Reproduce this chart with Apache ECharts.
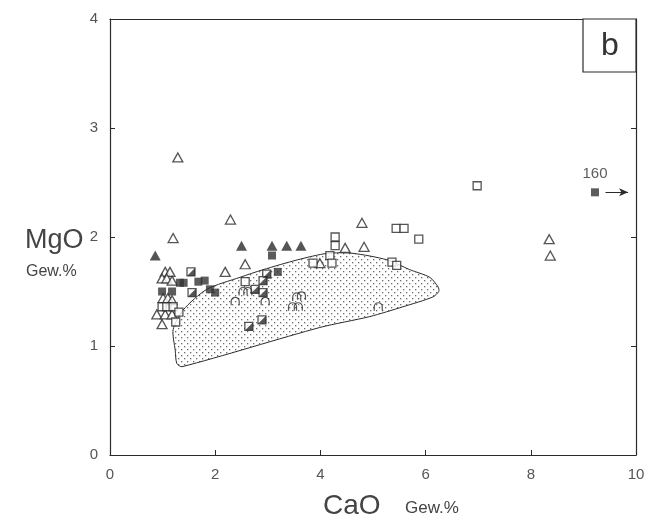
<!DOCTYPE html>
<html>
<head>
<meta charset="utf-8">
<script src="https://cdn.jsdelivr.net/npm/echarts@6/dist/echarts.min.js"></script>
<style>
  html, body { margin: 0; padding: 0; background: #fff; }
  #chart { width: 649px; height: 524px; }
</style>
</head>
<body>
<div id="chart"></div>
<script>
// Werte (CaO, MgO in Gew.%)
const openTriangles = [
  [1.29, 2.73], [2.29, 2.16], [1.20, 1.99], [2.57, 1.75], [2.19, 1.68],
  [4.79, 2.13], [4.47, 1.90], [4.83, 1.91], [3.99, 1.76], [8.35, 1.98], [8.37, 1.83],
  [1.05, 1.68], [1.14, 1.68], [0.99, 1.62], [1.08, 1.62], [1.18, 1.60],
  [1.01, 1.44], [1.10, 1.44], [1.18, 1.42], [0.89, 1.29], [1.05, 1.29],
  [1.18, 1.29], [0.99, 1.20]
];
const filledTriangles = [
  [0.86, 1.83], [2.50, 1.92], [3.08, 1.92], [3.36, 1.92], [3.63, 1.92]
];
const filledSquares = [
  [3.08, 1.83], [3.19, 1.68], [0.99, 1.50], [1.18, 1.50],
  [1.33, 1.58], [1.40, 1.58], [1.68, 1.59], [1.80, 1.60], [1.90, 1.52], [2.00, 1.49]
];
const farPoint = [9.22, 2.41];   // Wert 160, ausserhalb der Skala
const farLabel = '160';
const openSquares = [
  [6.98, 2.47], [5.44, 2.08], [5.59, 2.08], [5.87, 1.98], [4.28, 2.00], [4.28, 1.92],
  [4.18, 1.83], [4.22, 1.76], [5.36, 1.77], [5.45, 1.74], [3.86, 1.76], [2.57, 1.59],
  [0.99, 1.36], [1.08, 1.36], [1.20, 1.36], [1.31, 1.31], [1.25, 1.22]
];
const halfSquares = [
  [2.98, 1.66], [2.91, 1.60], [2.76, 1.52], [2.91, 1.49], [2.89, 1.24], [2.64, 1.18],
  [1.54, 1.68], [1.56, 1.49]
];
const arches = [
  [2.53, 1.50], [2.62, 1.50], [2.38, 1.41], [2.95, 1.41],
  [3.55, 1.45], [3.64, 1.46], [3.47, 1.36], [3.58, 1.36], [5.10, 1.36]
];
// Umriss des punktierten Feldes
const fieldOutline = [
  [1.20, 1.15], [1.24, 0.96], [1.27, 0.84], [1.37, 0.81], [3.99, 1.17], [4.94, 1.27],
  [5.57, 1.36], [6.14, 1.45], [6.25, 1.50], [6.24, 1.54], [6.08, 1.63], [5.70, 1.70],
  [5.27, 1.79], [4.62, 1.85], [4.13, 1.85], [3.56, 1.79], [2.91, 1.70], [2.47, 1.63],
  [1.84, 1.52], [1.39, 1.33]
];
const xTicks = [0, 2, 4, 6, 8, 10];
const yTicks = [0, 1, 2, 3, 4];

const ink = '#2b2b2b';
const font = 'Liberation Sans';

// Punktraster fuer das Feld
const dots = document.createElement('canvas');
dots.width = 6; dots.height = 6;
const dctx = dots.getContext('2d');
dctx.fillStyle = '#6a6a6a';
dctx.fillRect(1, 1, 1.3, 1.3);
dctx.fillRect(4, 4, 1.3, 1.3);

const chart = echarts.init(document.getElementById('chart'), null, { renderer: 'canvas' });

const axisCommon = {
  axisLine: { show: true, onZero: false, lineStyle: { color: ink, width: 1.2 } },
  axisTick: { show: true, inside: true, length: 5, lineStyle: { color: ink } },
  splitLine: { show: false },
  axisLabel: { color: '#555', fontSize: 15, fontFamily: font }
};

const openStyle = { color: '#fff', borderColor: ink, borderWidth: 1.3 };

chart.setOption({
  animation: false,
  grid: { left: 110, right: 13, top: 19, bottom: 69 },
  xAxis: [
    Object.assign({}, axisCommon, {
      type: 'value', min: xTicks[0], max: xTicks[xTicks.length - 1], interval: 2,
      axisLabel: Object.assign({}, axisCommon.axisLabel, { margin: 12 })
    }),
    Object.assign({}, axisCommon, {
      type: 'value', position: 'top', min: 0, max: 10, interval: 2,
      axisTick: { show: false }, axisLabel: { show: false }
    })
  ],
  yAxis: [
    Object.assign({}, axisCommon, {
      type: 'value', min: yTicks[0], max: yTicks[yTicks.length - 1], interval: 1,
      axisLabel: Object.assign({}, axisCommon.axisLabel, { margin: 12 })
    }),
    Object.assign({}, axisCommon, {
      type: 'value', position: 'right', min: 0, max: 4, interval: 1,
      axisLabel: { show: false }
    })
  ],
  graphic: [
    { type: 'rect', shape: { x: 583, y: 19, width: 53, height: 53 },
      style: { fill: '#fff', stroke: ink, lineWidth: 1.2 }, z: 10 },
    { type: 'text', x: 610, y: 46, z: 11,
      style: { text: 'b', fontSize: 32, fontFamily: font, fill: '#333', align: 'center', verticalAlign: 'middle' } },
    { type: 'text', x: 25, y: 241,
      style: { text: 'MgO', fontSize: 27, fontFamily: font, fill: '#444', verticalAlign: 'middle' } },
    { type: 'text', x: 26, y: 272,
      style: { text: 'Gew.%', fontSize: 16, fontFamily: font, fill: '#444', verticalAlign: 'middle' } },
    { type: 'text', x: 323, y: 506,
      style: { text: 'CaO', fontSize: 28, fontFamily: font, fill: '#444', verticalAlign: 'middle' } },
    { type: 'text', x: 405, y: 508,
      style: { text: 'Gew.%', fontSize: 17, fontFamily: font, fill: '#444', verticalAlign: 'middle' } }
  ],
  series: [
    {
      type: 'custom',
      silent: true,
      z: 1,
      data: [[0]],
      renderItem: function (params, api) {
        const pts = fieldOutline.map(p => api.coord(p));
        return {
          type: 'polygon',
          shape: { points: pts, smooth: 0.25 },
          style: { fill: { image: dots, repeat: 'repeat' }, stroke: ink, lineWidth: 1 }
        };
      }
    },
    {
      type: 'scatter', z: 3, data: openTriangles,
      symbol: 'triangle', symbolSize: [10, 9], itemStyle: openStyle
    },
    {
      type: 'scatter', z: 3, data: filledTriangles,
      symbol: 'triangle', symbolSize: [11, 10], itemStyle: { color: ink }
    },
    {
      type: 'scatter', z: 3, data: openSquares,
      symbol: 'rect', symbolSize: 8, itemStyle: openStyle
    },
    {
      type: 'scatter', z: 3, data: halfSquares,
      symbol: 'rect', symbolSize: 8, itemStyle: openStyle
    },
    {
      type: 'scatter', z: 4, data: halfSquares,
      symbol: 'path://M10 0 L10 10 L0 10 Z', symbolSize: 8, itemStyle: { color: ink }
    },
    {
      type: 'scatter', z: 3,
      data: filledSquares.concat([{
        value: farPoint,
        label: { show: true, position: 'top', distance: 7, formatter: farLabel,
          color: '#333', fontSize: 15, fontFamily: font }
      }]),
      symbol: 'rect', symbolSize: 8, itemStyle: { color: '#333' },
      markLine: {
        silent: true, animation: false,
        symbol: ['none', 'arrow'], symbolSize: [6, 9],
        label: { show: false },
        lineStyle: { color: ink, width: 1, type: 'solid' },
        data: [[{ coord: [farPoint[0] + 0.2, farPoint[1]] }, { coord: [9.85, farPoint[1]] }]]
      }
    },
    {
      type: 'scatter', z: 3, data: arches,
      symbol: 'path://M0 10 L0 5 A5 5 0 0 1 10 5 L10 10', symbolSize: [8, 8],
      itemStyle: { color: 'none', borderColor: ink, borderWidth: 1.2 }
    }
  ]
});
</script>
</body>
</html>
